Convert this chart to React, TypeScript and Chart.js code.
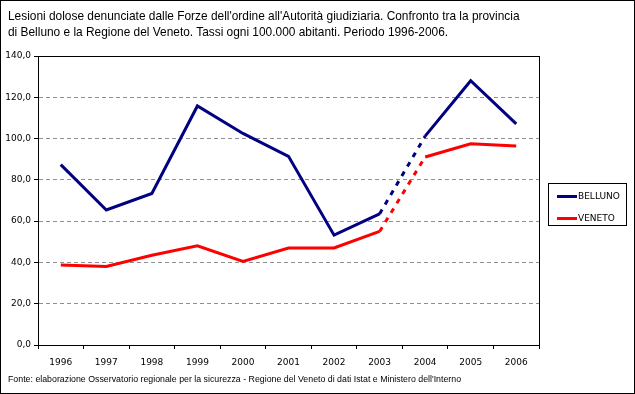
import React, { useEffect, useRef } from "react";
import { Chart, registerables } from "chart.js";

Chart.register(...registerables);

const years = ["1996", "1997", "1998", "1999", "2000", "2001", "2002", "2003", "2004", "2005", "2006"];
const belluno = [87.4, 65.4, 73.4, 115.8, 102.5, 91.4, 53.2, 63.5, 101.2, 128.0, 107.1];
const veneto = [38.8, 38.0, 43.5, 48.1, 40.5, 47.0, 47.0, 55.0, 91.1, 97.5, 96.4];
const seriesNames = ["BELLUNO", "VENETO"];
const seriesColors = ["#000080", "#FF0000"];
const dashedFromIndex = 7;

const titleLines = [
  "Lesioni dolose denunciate dalle Forze dell'ordine all'Autorità giudiziaria. Confronto tra la provincia",
  "di Belluno e la Regione del Veneto. Tassi ogni 100.000 abitanti. Periodo 1996-2006.",
];
const sourceText =
  "Fonte: elaborazione Osservatorio regionale per la sicurezza - Regione del Veneto di dati Istat e Ministero dell'Interno";

const FONT = "'DejaVu Sans', sans-serif";
const TEXT_FONT = "'Liberation Sans', Arial, sans-serif";

export default function App() {
  const ref = useRef<HTMLCanvasElement>(null);

  useEffect(() => {
    document.body.style.margin = "0";
    const canvas = ref.current!;
    const borderPlugin = {
      id: "plotBorder",
      afterDatasetsDraw(chart: any) {
        const { ctx, chartArea } = chart;
        ctx.save();
        ctx.setLineDash([]);
        ctx.strokeStyle = "#000";
        ctx.lineWidth = 1;
        ctx.strokeRect(
          Math.round(chartArea.left) + 0.5,
          Math.round(chartArea.top) + 0.5,
          Math.round(chartArea.right - chartArea.left),
          Math.round(chartArea.bottom - chartArea.top)
        );
        ctx.restore();
      },
    };
    const dash = (ctx: any) => (ctx.p0DataIndex === dashedFromIndex ? [5, 6] : undefined);
    const chart = new Chart(canvas, {
      type: "line",
      data: {
        labels: years,
        datasets: [
          {
            label: seriesNames[0],
            data: belluno,
            borderColor: seriesColors[0],
            backgroundColor: seriesColors[0],
            borderWidth: 3,
            pointRadius: 0,
            tension: 0,
            segment: { borderDash: dash },
          },
          {
            label: seriesNames[1],
            data: veneto,
            borderColor: seriesColors[1],
            backgroundColor: seriesColors[1],
            borderWidth: 3,
            pointRadius: 0,
            tension: 0,
            segment: { borderDash: dash },
          },
        ],
      },
      options: {
        animation: false,
        responsive: false,
        maintainAspectRatio: false,
        layout: { padding: { left: 0, top: 55, right: 95, bottom: 0 } },
        plugins: { legend: { display: false }, tooltip: { enabled: false }, title: { display: false } },
        scales: {
          x: {
            offset: true,
            grid: {
              offset: true,
              drawOnChartArea: false,
              drawTicks: true,
              tickLength: 4,
              tickColor: "#000",
              color: "#000",
            },
            border: { color: "#000", width: 1 },
            ticks: { color: "#000", font: { family: FONT, size: 9 }, padding: 8, maxRotation: 0, autoSkip: false },
            afterFit: (s: any) => {
              s.height = 48;
            },
          },
          y: {
            min: 0,
            max: 140,
            grid: {
              color: "#909090",
              tickBorderDash: [],
              tickColor: "#000",
              tickLength: 4,
              drawTicks: true,
            },
            border: { color: "#000", width: 1, dash: [4, 3] },
            ticks: {
              stepSize: 20,
              color: "#000",
              padding: 3,
              font: { family: FONT, size: 9 },
              callback: (v: any) => Number(v).toFixed(1).replace(".", ","),
            },
            afterFit: (s: any) => {
              s.width = 37;
            },
          },
        },
      },
      plugins: [borderPlugin],
    } as any);
    return () => chart.destroy();
  }, []);

  return (
    <div
      style={{
        position: "relative",
        width: 635,
        height: 394,
        boxSizing: "border-box",
        border: "1px solid #000",
        background: "#fff",
        fontFamily: TEXT_FONT,
        overflow: "hidden",
      }}
    >
      <canvas ref={ref} width={633} height={392} style={{ position: "absolute", left: 0, top: 0 }} />
      <div style={{ position: "absolute", left: 7, top: 7, fontSize: 11.9, lineHeight: "16px", color: "#000", whiteSpace: "nowrap" }}>
        {titleLines.map((t, i) => (
          <div key={i}>{t}</div>
        ))}
      </div>
      <div
        style={{
          position: "absolute",
          left: 547,
          top: 182,
          width: 79,
          height: 43,
          border: "1px solid #000",
          boxSizing: "border-box",
          fontSize: 9,
          fontFamily: FONT,
        }}
      >
        {seriesNames.map((n, i) => (
          <div key={n} style={{ position: "absolute", left: 8, top: 6 + i * 22, display: "flex", alignItems: "center", height: 12 }}>
            <div style={{ width: 20, height: 3, background: seriesColors[i], marginRight: 1 }} />
            <span>{n}</span>
          </div>
        ))}
      </div>
      <div style={{ position: "absolute", left: 7, top: 373, fontSize: 8.8, color: "#000", whiteSpace: "nowrap" }}>{sourceText}</div>
    </div>
  );
}
